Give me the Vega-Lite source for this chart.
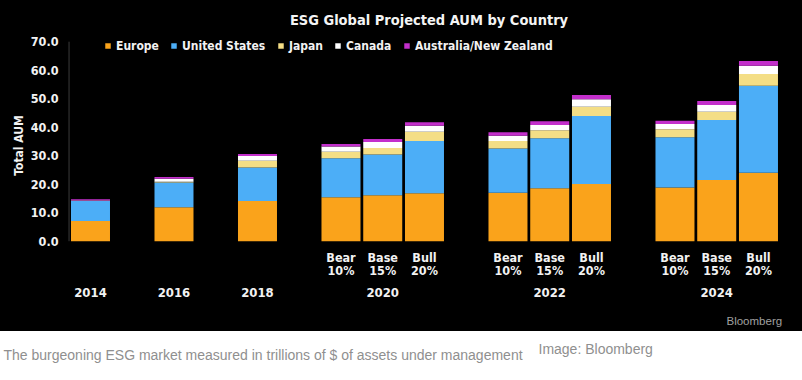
{
  "$schema": "https://vega.github.io/schema/vega-lite/v6.json",
  "width": 802,
  "height": 331,
  "autosize": {"type": "none"},
  "padding": {"left": 0, "top": 0, "right": 0, "bottom": 49},
  "background": "white",
  "config": {"view": {"fill": "black", "stroke": null}},
  "title": {
    "text": "ESG Global Projected AUM by Country",
    "frame": "group",
    "anchor": "middle",
    "dx": 28,
    "offset": -39,
    "baseline": "alphabetic",
    "font": "DejaVu Sans Condensed, DejaVu Sans",
    "fontSize": 14.5,
    "fontWeight": "bold",
    "color": "#f4f4f4"
  },
  "layer": [
    {
      "data": {
        "values": [
          {"bar": "2014", "Europe": 7.1, "United States": 7.0, "Japan": 0.05, "Canada": 0.1, "Australia/New Zealand": 0.5},
          {"bar": "2016", "Europe": 11.9, "United States": 8.7, "Japan": 0.3, "Canada": 1.0, "Australia/New Zealand": 0.6},
          {"bar": "2018", "Europe": 14.1, "United States": 11.8, "Japan": 2.3, "Canada": 1.7, "Australia/New Zealand": 0.7},
          {"bar": "2020 Bear 10%", "Europe": 15.4, "United States": 13.7, "Japan": 2.3, "Canada": 1.8, "Australia/New Zealand": 0.9},
          {"bar": "2020 Base 15%", "Europe": 16.1, "United States": 14.3, "Japan": 2.3, "Canada": 2.1, "Australia/New Zealand": 1.1},
          {"bar": "2020 Bull 20%", "Europe": 16.8, "United States": 18.4, "Japan": 3.2, "Canada": 2.1, "Australia/New Zealand": 1.2},
          {"bar": "2022 Bear 10%", "Europe": 17.0, "United States": 15.5, "Japan": 2.7, "Canada": 1.8, "Australia/New Zealand": 1.2},
          {"bar": "2022 Base 15%", "Europe": 18.6, "United States": 17.5, "Japan": 2.8, "Canada": 1.9, "Australia/New Zealand": 1.3},
          {"bar": "2022 Bull 20%", "Europe": 20.1, "United States": 23.8, "Japan": 3.3, "Canada": 2.6, "Australia/New Zealand": 1.5},
          {"bar": "2024 Bear 10%", "Europe": 18.8, "United States": 17.7, "Japan": 2.8, "Canada": 1.8, "Australia/New Zealand": 1.2},
          {"bar": "2024 Base 15%", "Europe": 21.5, "United States": 21.0, "Japan": 2.9, "Canada": 2.4, "Australia/New Zealand": 1.4},
          {"bar": "2024 Bull 20%", "Europe": 24.0, "United States": 30.5, "Japan": 4.2, "Canada": 2.9, "Australia/New Zealand": 1.6}
        ]
      },
      "transform": [
        {"fold": ["Europe", "United States", "Japan", "Canada", "Australia/New Zealand"], "as": ["region", "aum"]},
        {"calculate": "indexof(['Europe', 'United States', 'Japan', 'Canada', 'Australia/New Zealand'], datum.region)", "as": "stackOrder"}
      ],
      "mark": {"type": "bar"},
      "encoding": {
        "x": {
          "field": "bar",
          "type": "nominal",
          "scale": {
            "domain": ["_0", "2014", "_1", "2016", "_2", "2018", "_3", "2020 Bear 10%", "2020 Base 15%", "2020 Bull 20%", "_4", "2022 Bear 10%", "2022 Base 15%", "2022 Bull 20%", "_5", "2024 Bear 10%", "2024 Base 15%", "2024 Bull 20%"],
            "paddingInner": 0.0659,
            "paddingOuter": 0.638,
            "align": 0.549,
            "round": false
          },
          "axis": {
            "orient": "bottom",
            "offset": -90,
            "domain": false,
            "ticks": false,
            "tickSize": 0,
            "grid": false,
            "labelAngle": 0,
            "labelPadding": 10,
            "labelExpr": "length(split(datum.value, ' ')) > 1 ? slice(split(datum.value, ' '), 1) : ''",
            "labelFont": "DejaVu Sans Condensed, DejaVu Sans",
            "labelFontSize": 12.5,
            "labelFontWeight": "bold",
            "labelColor": "#f2f2f2",
            "labelLineHeight": 13.5,
            "labelOverlap": false,
            "labelBound": false,
            "labelFlush": false,
            "title": "The burgeoning ESG market measured in trillions of $ of assets under management",
            "titleFont": "Liberation Sans",
            "titleFontSize": 14,
            "titleFontWeight": "normal",
            "titleColor": "#8f8f8f",
            "titleX": 3,
            "titleY": 118,
            "titleAlign": "left",
            "titleAnchor": "start",
            "titleBaseline": "alphabetic"
          }
        },
        "y": {
          "field": "aum",
          "type": "quantitative",
          "stack": "zero",
          "scale": {"domain": [-31.51, 84.63], "nice": false, "zero": false},
          "axis": {
            "orient": "left",
            "offset": -69,
            "values": [0, 10, 20, 30, 40, 50, 60, 70],
            "format": ".1f",
            "domain": false,
            "ticks": false,
            "tickSize": 0,
            "grid": false,
            "labelPadding": 11,
            "labelFont": "DejaVu Sans Condensed, DejaVu Sans",
            "labelFontSize": 12.5,
            "labelFontWeight": "bold",
            "labelColor": "#f2f2f2",
            "title": "Total AUM",
            "titleFont": "DejaVu Sans Condensed, DejaVu Sans",
            "titleFontSize": 12,
            "titleFontWeight": "bold",
            "titleColor": "#f2f2f2",
            "titleX": -51,
            "titleY": 145,
            "titleAngle": -90,
            "titleAlign": "center",
            "titleBaseline": "middle"
          }
        },
        "order": {"field": "stackOrder", "type": "quantitative", "sort": "ascending"},
        "color": {
          "field": "region",
          "type": "nominal",
          "scale": {
            "domain": ["Europe", "United States", "Japan", "Canada", "Australia/New Zealand"],
            "range": ["#FAA31B", "#4CAEF7", "#F4DE86", "#FFFFFF", "#C32FCB"]
          },
          "legend": {
            "orient": "none",
            "legendX": 102,
            "legendY": 40,
            "direction": "horizontal",
            "title": null,
            "symbolType": "square",
            "symbolSize": 30,
            "symbolStrokeWidth": 0,
            "labelFont": "DejaVu Sans Condensed, DejaVu Sans",
            "labelFontSize": 12,
            "labelFontWeight": "bold",
            "labelColor": "#f2f2f2",
            "labelOffset": 2,
            "columnPadding": 9,
            "padding": 0
          }
        }
      }
    },
    {
      "data": {"values": [{"line": "axis"}]},
      "mark": {"type": "rule", "color": "#3a3a3a", "strokeWidth": 1},
      "encoding": {
        "x": {
          "datum": "2014",
          "type": "nominal",
          "bandPosition": -0.05,
          "axis": {
            "orient": "bottom",
            "offset": -90,
            "domain": false,
            "ticks": false,
            "tickSize": 0,
            "grid": false,
            "labelAngle": 0,
            "labelPadding": 45,
            "labelExpr": "indexof(datum.value, '_') == 0 ? '' : (indexof(datum.value, ' ') < 0 ? datum.value : (indexof(datum.value, 'Base') > 0 ? split(datum.value, ' ')[0] : ''))",
            "labelFont": "DejaVu Sans Condensed, DejaVu Sans",
            "labelFontSize": 13,
            "labelFontWeight": "bold",
            "labelColor": "#f2f2f2",
            "labelOverlap": false,
            "labelBound": false,
            "labelFlush": false,
            "title": "Image: Bloomberg",
            "titleFont": "Liberation Sans",
            "titleFontSize": 14,
            "titleFontWeight": "normal",
            "titleColor": "#8f8f8f",
            "titleX": 538,
            "titleY": 112,
            "titleAlign": "left",
            "titleAnchor": "start",
            "titleBaseline": "alphabetic"
          }
        },
        "y": {
          "datum": 0,
          "type": "quantitative",
          "axis": {
            "orient": "right",
            "offset": 0,
            "labels": false,
            "ticks": false,
            "domain": false,
            "grid": false,
            "title": "Bloomberg",
            "titleFont": "Liberation Sans Narrow, Liberation Sans",
            "titleFontSize": 11.5,
            "titleFontWeight": "normal",
            "titleColor": "#a0a0a0",
            "titleAngle": 0,
            "titleX": -76,
            "titleY": 324,
            "titleAlign": "left",
            "titleBaseline": "alphabetic"
          }
        },
        "y2": {"datum": 70}
      }
    }
  ],
  "resolve": {"axis": {"x": "independent", "y": "independent"}}
}
